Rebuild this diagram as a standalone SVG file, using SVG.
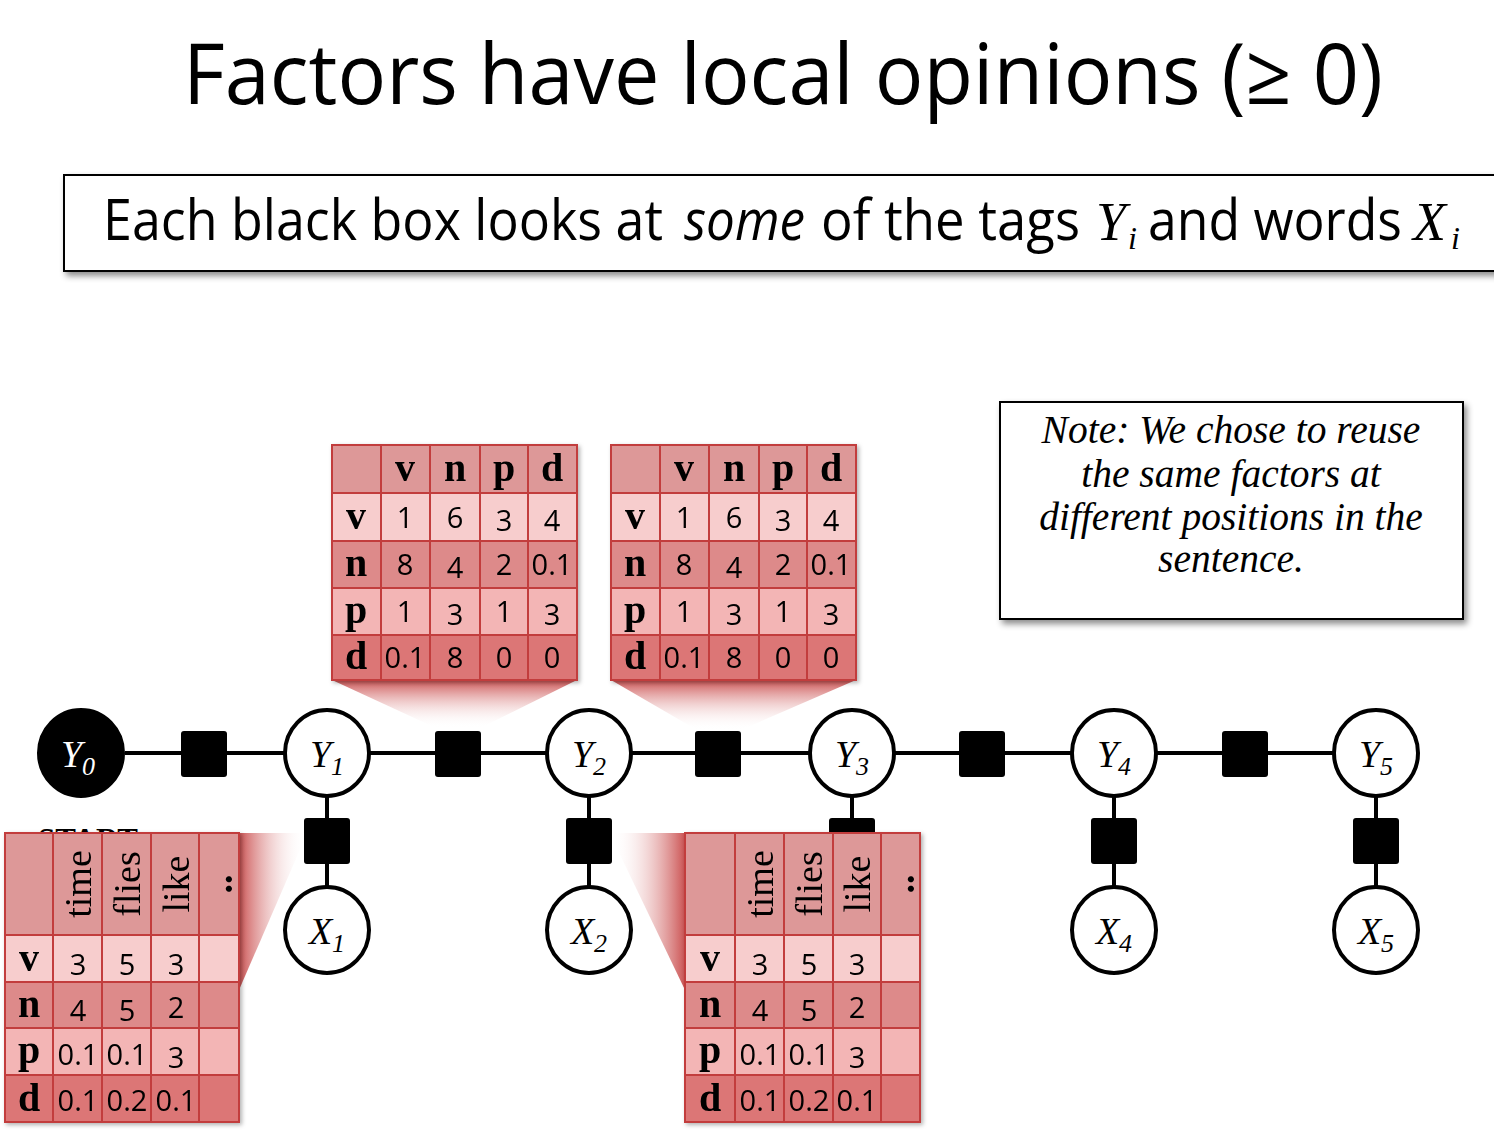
<svg xmlns="http://www.w3.org/2000/svg" width="1494" height="1142" viewBox="0 0 1494 1142">
<defs>
<filter id="sh" x="-5%" y="-10%" width="115%" height="130%"><feDropShadow dx="3" dy="4" stdDeviation="3" flood-color="#000" flood-opacity="0.45"/></filter>
<filter id="tsh" x="-5%" y="-5%" width="115%" height="115%"><feDropShadow dx="2" dy="2" stdDeviation="2" flood-color="#000" flood-opacity="0.3"/></filter>
<linearGradient id="gdown" x1="0" y1="0" x2="0" y2="1"><stop offset="0" stop-color="#c94a4a" stop-opacity="0.95"/><stop offset="1" stop-color="#ffffff" stop-opacity="0"/></linearGradient>
<linearGradient id="gright" x1="0" y1="0" x2="1" y2="0"><stop offset="0" stop-color="#c94a4a" stop-opacity="0.95"/><stop offset="1" stop-color="#ffffff" stop-opacity="0"/></linearGradient>
<linearGradient id="gleft" x1="1" y1="0" x2="0" y2="0"><stop offset="0" stop-color="#c94a4a" stop-opacity="0.95"/><stop offset="1" stop-color="#ffffff" stop-opacity="0"/></linearGradient>
</defs>
<style>
.title{font-family:"Open Sans",sans-serif;font-size:84px;fill:#000}
.sub{font-family:"Open Sans",sans-serif;font-size:56px;fill:#000}
.mi{font-family:"Liberation Serif",serif;font-style:italic;fill:#000}
.box{fill:#fff;stroke:#000;stroke-width:2}
.edge{stroke:#000;stroke-width:4;fill:none}
.fac{fill:#000}
.var{fill:#fff;stroke:#000;stroke-width:4}
.obs{fill:#000;stroke:#000;stroke-width:4}
.lbl{font-family:"Liberation Serif",serif;font-style:italic;font-size:38px;text-anchor:middle}
.note{font-family:"Liberation Serif",serif;font-style:italic;font-size:39.5px;text-anchor:middle}
.rh{fill:#dd9898}.rv{fill:#f7cdcd}.rn{fill:#dd8a8a}.rp{fill:#f3b5b5}.rd{fill:#dc7676}
.grid{stroke:#c23e3e;stroke-width:2;fill:none}
.tl{font-family:"Liberation Serif",serif;font-weight:bold;font-size:40px;text-anchor:middle}
.num{font-family:"Open Sans",sans-serif;font-size:29px;text-anchor:middle}
.wd{font-family:"Liberation Serif",serif;font-size:38px;text-anchor:middle}
</style>

<g id="title"><text class="title" x="183" y="104" textLength="1200" lengthAdjust="spacingAndGlyphs">Factors have local opinions (≥ 0)</text></g>

<g id="subtitle">
<rect class="box" x="64" y="175" width="1440" height="96" filter="url(#sh)"/>
<text class="sub" x="103" y="240" textLength="560" lengthAdjust="spacingAndGlyphs">Each black box looks at</text>
<text class="sub" x="684" y="240" font-style="italic" textLength="121" lengthAdjust="spacingAndGlyphs">some</text>
<text class="sub" x="821" y="240" textLength="259" lengthAdjust="spacingAndGlyphs">of the tags</text>
<text class="mi" x="1096" y="240" font-size="54">Y</text>
<text class="mi" x="1128" y="249" font-size="32">i</text>
<text class="sub" x="1148" y="240" textLength="254" lengthAdjust="spacingAndGlyphs">and words</text>
<text class="mi" x="1413" y="240" font-size="54">X</text>
<text class="mi" x="1451" y="249" font-size="32">i</text>
</g>

<g id="note">
<rect class="box" x="1000" y="402" width="463" height="217" filter="url(#sh)"/>
<text class="note" x="1231" y="443">Note: We chose to reuse</text>
<text class="note" x="1231" y="487">the same factors at</text>
<text class="note" x="1231" y="530">different positions in the</text>
<text class="note" x="1231" y="572">sentence.</text>
</g>

<text id="start" x="88" y="850" font-family="Liberation Serif,serif" font-weight="bold" font-size="31" text-anchor="middle">START</text>

<g id="connectors">
<line class="edge" x1="125" y1="753" x2="1333" y2="753"/>
<line class="edge" x1="327" y1="797" x2="327" y2="887"/>
<line class="edge" x1="589" y1="797" x2="589" y2="887"/>
<line class="edge" x1="852" y1="797" x2="852" y2="840"/>
<line class="edge" x1="1114" y1="797" x2="1114" y2="887"/>
<line class="edge" x1="1376" y1="797" x2="1376" y2="887"/>
</g>

<g id="factors">
<rect id="f01" class="fac" x="181" y="731" width="46" height="46" rx="3"/>
<rect id="f12" class="fac" x="435" y="731" width="46" height="46" rx="3"/>
<rect id="f23" class="fac" x="695" y="731" width="46" height="46" rx="3"/>
<rect id="f34" class="fac" x="959" y="731" width="46" height="46" rx="3"/>
<rect id="f45" class="fac" x="1222" y="731" width="46" height="46" rx="3"/>
<rect id="fx1" class="fac" x="304" y="818" width="46" height="46" rx="3"/>
<rect id="fx2" class="fac" x="566" y="818" width="46" height="46" rx="3"/>
<rect id="fx3" class="fac" x="829" y="818" width="46" height="46" rx="3"/>
<rect id="fx4" class="fac" x="1091" y="818" width="46" height="46" rx="3"/>
<rect id="fx5" class="fac" x="1353" y="818" width="46" height="46" rx="3"/>
</g>

<g id="Y0"><ellipse class="obs" cx="81" cy="753" rx="42" ry="43"/><text class="lbl" x="78" y="767" fill="#fff">Y<tspan font-size="26" dy="8">0</tspan></text></g>
<g id="Y1"><ellipse class="var" cx="327" cy="753" rx="42" ry="43"/><text class="lbl" x="327" y="767">Y<tspan font-size="26" dy="8">1</tspan></text></g>
<g id="Y2"><ellipse class="var" cx="589" cy="753" rx="42" ry="43"/><text class="lbl" x="589" y="767">Y<tspan font-size="26" dy="8">2</tspan></text></g>
<g id="Y3"><ellipse class="var" cx="852" cy="753" rx="42" ry="43"/><text class="lbl" x="852" y="767">Y<tspan font-size="26" dy="8">3</tspan></text></g>
<g id="Y4"><ellipse class="var" cx="1114" cy="753" rx="42" ry="43"/><text class="lbl" x="1114" y="767">Y<tspan font-size="26" dy="8">4</tspan></text></g>
<g id="Y5"><ellipse class="var" cx="1376" cy="753" rx="42" ry="43"/><text class="lbl" x="1376" y="767">Y<tspan font-size="26" dy="8">5</tspan></text></g>
<g id="X1"><ellipse class="var" cx="327" cy="930" rx="42" ry="43"/><text class="lbl" x="327" y="944">X<tspan font-size="26" dy="8">1</tspan></text></g>
<g id="X2"><ellipse class="var" cx="589" cy="930" rx="42" ry="43"/><text class="lbl" x="589" y="944">X<tspan font-size="26" dy="8">2</tspan></text></g>
<g id="X4"><ellipse class="var" cx="1114" cy="930" rx="42" ry="43"/><text class="lbl" x="1114" y="944">X<tspan font-size="26" dy="8">4</tspan></text></g>
<g id="X5"><ellipse class="var" cx="1376" cy="930" rx="42" ry="43"/><text class="lbl" x="1376" y="944">X<tspan font-size="26" dy="8">5</tspan></text></g>

<g id="wedges">
<polygon points="332,680 577,680 480,728 436,728" fill="url(#gdown)"/>
<polygon points="611,680 856,680 741,730 697,730" fill="url(#gdown)"/>
<polygon points="239,833 305,833 305,838 239,990" fill="url(#gright)"/>
<polygon points="612,833 685,833 685,990 612,838" fill="url(#gleft)"/>
</g>

<g id="table-trans-1" filter="url(#tsh)">
<rect class="rh" x="332" y="445" width="245" height="48"/>
<rect class="rv" x="332" y="493" width="245" height="48"/>
<rect class="rn" x="332" y="541" width="245" height="47"/>
<rect class="rp" x="332" y="588" width="245" height="47"/>
<rect class="rd" x="332" y="635" width="245" height="45"/>
<path class="grid" d="M332,445H577V680H332Z M332,493H577 M332,541H577 M332,588H577 M332,635H577 M381,445V680 M430,445V680 M480,445V680 M528,445V680"/>
<g class="tl"><text x="405" y="481">v</text><text x="455" y="481">n</text><text x="504" y="481">p</text><text x="552" y="481">d</text>
<text x="356" y="529">v</text><text x="356" y="576">n</text><text x="356" y="623">p</text><text x="356" y="669">d</text></g>
<g class="num">
<text x="405" y="528">1</text><text x="455" y="528">6</text><text x="504" y="531">3</text><text x="552" y="531">4</text>
<text x="405" y="575">8</text><text x="455" y="578">4</text><text x="504" y="575">2</text><text x="552" y="575">0.1</text>
<text x="405" y="622">1</text><text x="455" y="625">3</text><text x="504" y="622">1</text><text x="552" y="625">3</text>
<text x="405" y="668">0.1</text><text x="455" y="668">8</text><text x="504" y="668">0</text><text x="552" y="668">0</text>
</g>
</g>

<g id="table-trans-2" filter="url(#tsh)">
<rect class="rh" x="611" y="445" width="245" height="48"/>
<rect class="rv" x="611" y="493" width="245" height="48"/>
<rect class="rn" x="611" y="541" width="245" height="47"/>
<rect class="rp" x="611" y="588" width="245" height="47"/>
<rect class="rd" x="611" y="635" width="245" height="45"/>
<path class="grid" d="M611,445H856V680H611Z M611,493H856 M611,541H856 M611,588H856 M611,635H856 M660,445V680 M709,445V680 M759,445V680 M807,445V680"/>
<g class="tl"><text x="684" y="481">v</text><text x="734" y="481">n</text><text x="783" y="481">p</text><text x="831" y="481">d</text>
<text x="635" y="529">v</text><text x="635" y="576">n</text><text x="635" y="623">p</text><text x="635" y="669">d</text></g>
<g class="num">
<text x="684" y="528">1</text><text x="734" y="528">6</text><text x="783" y="531">3</text><text x="831" y="531">4</text>
<text x="684" y="575">8</text><text x="734" y="578">4</text><text x="783" y="575">2</text><text x="831" y="575">0.1</text>
<text x="684" y="622">1</text><text x="734" y="625">3</text><text x="783" y="622">1</text><text x="831" y="625">3</text>
<text x="684" y="668">0.1</text><text x="734" y="668">8</text><text x="783" y="668">0</text><text x="831" y="668">0</text>
</g>
</g>

<g id="table-emit-1" filter="url(#tsh)">
<rect class="rh" x="5" y="833" width="234" height="102"/>
<rect class="rv" x="5" y="935" width="234" height="47"/>
<rect class="rn" x="5" y="982" width="234" height="46"/>
<rect class="rp" x="5" y="1028" width="234" height="47"/>
<rect class="rd" x="5" y="1075" width="234" height="47"/>
<path class="grid" d="M5,833H239V1122H5Z M5,935H239 M5,982H239 M5,1028H239 M5,1075H239 M53,833V1122 M102,833V1122 M151,833V1122 M199,833V1122"/>
<g class="wd">
<text x="78" y="897" transform="rotate(-90 78 884)">time</text>
<text x="127" y="897" transform="rotate(-90 127 884)">flies</text>
<text x="176" y="897" transform="rotate(-90 176 884)">like</text>
<text x="219" y="897" transform="rotate(-90 219 884)" font-weight="bold">..</text>
</g>
<g class="tl"><text x="29" y="971">v</text><text x="29" y="1017">n</text><text x="29" y="1063">p</text><text x="29" y="1111">d</text></g>
<g class="num">
<text x="78" y="975">3</text><text x="127" y="975">5</text><text x="176" y="975">3</text>
<text x="78" y="1021">4</text><text x="127" y="1021">5</text><text x="176" y="1018">2</text>
<text x="78" y="1065">0.1</text><text x="127" y="1065">0.1</text><text x="176" y="1068">3</text>
<text x="78" y="1111">0.1</text><text x="127" y="1111">0.2</text><text x="176" y="1111">0.1</text>
</g>
</g>

<g id="table-emit-2" filter="url(#tsh)">
<rect class="rh" x="685" y="833" width="235" height="102"/>
<rect class="rv" x="685" y="935" width="235" height="47"/>
<rect class="rn" x="685" y="982" width="235" height="46"/>
<rect class="rp" x="685" y="1028" width="235" height="47"/>
<rect class="rd" x="685" y="1075" width="235" height="47"/>
<path class="grid" d="M685,833H920V1122H685Z M685,935H920 M685,982H920 M685,1028H920 M685,1075H920 M735,833V1122 M784,833V1122 M833,833V1122 M881,833V1122"/>
<g class="wd">
<text x="760" y="897" transform="rotate(-90 760 884)">time</text>
<text x="809" y="897" transform="rotate(-90 809 884)">flies</text>
<text x="857" y="897" transform="rotate(-90 857 884)">like</text>
<text x="901" y="897" transform="rotate(-90 901 884)" font-weight="bold">..</text>
</g>
<g class="tl"><text x="710" y="971">v</text><text x="710" y="1017">n</text><text x="710" y="1063">p</text><text x="710" y="1111">d</text></g>
<g class="num">
<text x="760" y="975">3</text><text x="809" y="975">5</text><text x="857" y="975">3</text>
<text x="760" y="1021">4</text><text x="809" y="1021">5</text><text x="857" y="1018">2</text>
<text x="760" y="1065">0.1</text><text x="809" y="1065">0.1</text><text x="857" y="1068">3</text>
<text x="760" y="1111">0.1</text><text x="809" y="1111">0.2</text><text x="857" y="1111">0.1</text>
</g>
</g>
</svg>
